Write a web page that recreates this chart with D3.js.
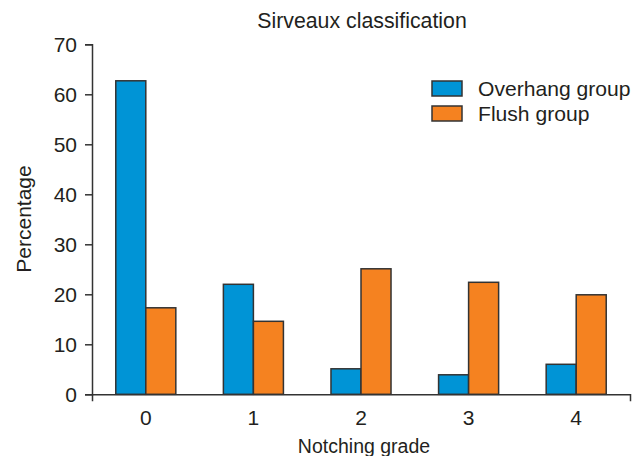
<!DOCTYPE html>
<html>
<head>
<meta charset="utf-8">
<script src="https://cdn.jsdelivr.net/npm/d3@7"></script>
<style>
  body { margin: 0; background: #fff; }
  text { font-family: "Liberation Sans", Arial, sans-serif; fill: #231f20; }
</style>
</head>
<body>
<div id="chart"></div>
<script>
const grades = ["0", "1", "2", "3", "4"];
const seriesNames = ["Overhang group", "Flush group"];
const overhang = [62.7, 22.0, 5.1, 3.9, 6.0];
const flush = [17.3, 14.6, 25.1, 22.4, 19.9];
const yTicks = [0, 10, 20, 30, 40, 50, 60, 70];

const width = 632,
  height = 456;
const colors = ["#0094d6", "#f58220"];
const ink = "#333";

const svg = d3.select("#chart").append("svg").attr("width", width).attr("height", height);

const x = d3.scaleBand().domain(grades).range([92, 630]).paddingInner(0.442).paddingOuter(0.221);
const sub = d3.scaleBand().domain(seriesNames).range([0, x.bandwidth()]);
const y = d3.scaleLinear().domain([0, 70]).range([394.3, 44.3]);

const rows = grades.map((g, i) => ({ grade: g, values: [overhang[i], flush[i]] }));

// bars
svg
  .append("g")
  .selectAll("g")
  .data(rows)
  .join("g")
  .attr("transform", d => `translate(${x(d.grade)},0)`)
  .selectAll("rect")
  .data(d => d.values.map((v, j) => ({ name: seriesNames[j], value: v, j })))
  .join("rect")
  .attr("x", d => sub(d.name))
  .attr("y", d => y(d.value))
  .attr("width", sub.bandwidth())
  .attr("height", d => y(0) - y(d.value))
  .attr("fill", d => colors[d.j])
  .attr("stroke", ink)
  .attr("stroke-width", 1.5);

// y axis
const yAxis = svg
  .append("g")
  .attr("transform", "translate(92,0)")
  .call(d3.axisLeft(y).tickValues(yTicks).tickSize(7).tickPadding(8));

// x axis, only end ticks
const xAxis = svg
  .append("g")
  .attr("transform", `translate(0,${y(0)})`)
  .call(d3.axisBottom(x).tickSizeInner(0).tickSizeOuter(7).tickPadding(16));

[yAxis, xAxis].forEach(a => {
  a.selectAll("path, line").attr("stroke", ink).attr("stroke-width", 1.5);
  a.selectAll("text").style("font-size", "21px").attr("fill", "#231f20");
  a.style("font-family", "Liberation Sans, Arial, sans-serif");
});

// title and axis labels
svg
  .append("text")
  .attr("x", 362)
  .attr("y", 28)
  .attr("text-anchor", "middle")
  .style("font-size", "21.3px")
  .text("Sirveaux classification");

svg
  .append("text")
  .attr("x", 364)
  .attr("y", 453)
  .attr("text-anchor", "middle")
  .style("font-size", "19.5px")
  .text("Notching grade");

svg
  .append("text")
  .attr("transform", "translate(31,219) rotate(-90)")
  .attr("text-anchor", "middle")
  .style("font-size", "21px")
  .text("Percentage");

// legend
const legend = svg
  .append("g")
  .selectAll("g")
  .data(seriesNames)
  .join("g")
  .attr("transform", (d, i) => `translate(432,${81 + i * 25})`);

legend
  .append("rect")
  .attr("width", 30)
  .attr("height", 15)
  .attr("fill", (d, i) => colors[i])
  .attr("stroke", ink)
  .attr("stroke-width", 1.5);

legend
  .append("text")
  .attr("x", 46)
  .attr("y", 14.5)
  .style("font-size", "21.1px")
  .text(d => d);
</script>
</body>
</html>
